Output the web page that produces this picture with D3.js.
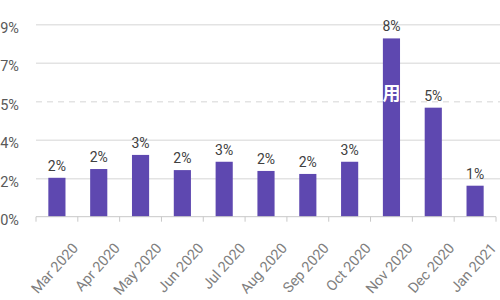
<!DOCTYPE html>
<html>
<head>
<meta charset="utf-8">
<script src="https://cdn.jsdelivr.net/npm/d3@7"></script>
<style>
  body { margin: 0; background: #fff; }
  svg text { font-family: Roboto, "Open Sans", sans-serif; }
</style>
</head>
<body>
<svg id="main-svg" width="500" height="300"></svg>
<script>
// data
var months = ["Mar 2020", "Apr 2020", "May 2020", "Jun 2020", "Jul 2020", "Aug 2020",
  "Sep 2020", "Oct 2020", "Nov 2020", "Dec 2020", "Jan 2021"];
var shares = [1.82, 2.23, 2.89, 2.18, 2.57, 2.14, 2.0, 2.57, 8.34, 5.1, 1.45];
var yTicks = [0, 1.8, 3.6, 5.4, 7.2, 9];

var canvas = d3.select('#main-svg');
var purple = '#5e48b0';

var x = d3.scaleBand().domain(months).range([36, 496])
  .paddingInner(0.59).paddingOuter(0.295);
var y = d3.scaleLinear().domain([0, 9]).range([216.7, 24.3]);
var fmt = (v) => Math.round(v) + '%';

// gridlines + y labels
var yAxis = canvas.append('g').attr('transform', 'translate(36,0)')
  .call(d3.axisLeft(y).tickValues(yTicks).tickFormat(fmt).tickSize(-464).tickPadding(17));
yAxis.select('.domain').remove();
yAxis.selectAll('.tick line')
  .attr('stroke', '#e3e3e3')
  .attr('stroke-width', 1.5)
  .attr('stroke-dasharray', (d, i) => i == 3 ? '6,5' : null)
  .style('display', (d, i) => i == 0 ? 'none' : null);
yAxis.selectAll('.tick text')
  .attr('fill', '#595959')
  .style('font-size', '14.5px')
  .attr('dy', '0.55em');

// bars
canvas.append('g').selectAll('rect').data(shares).enter().append('rect')
  .attr('x', (d, i) => x(months[i]))
  .attr('width', x.bandwidth())
  .attr('y', (d) => y(d))
  .attr('height', (d) => y(0) - y(d))
  .attr('fill', purple);

// value labels
canvas.append('g').selectAll('text').data(shares).enter().append('text')
  .attr('x', (d, i) => x(months[i]) + x.bandwidth() / 2)
  .attr('y', (d) => y(d) - 7)
  .attr('text-anchor', 'middle')
  .attr('fill', '#404040')
  .style('font-size', '14px')
  .text(fmt);

// bottom axis: line + ticks at band boundaries
var base = canvas.append('g');
base.append('line')
  .attr('x1', x.range()[0]).attr('x2', x.range()[1])
  .attr('y1', y(0)).attr('y2', y(0))
  .attr('stroke', '#c8c8c8').attr('stroke-width', 1);
base.selectAll('line.tk').data(d3.range(months.length + 1)).enter().append('line')
  .attr('class', 'tk')
  .attr('x1', (i) => x.range()[0] + i * x.step())
  .attr('x2', (i) => x.range()[0] + i * x.step())
  .attr('y1', y(0)).attr('y2', y(0) + 5)
  .attr('stroke', '#c8c8c8');

// rotated month labels
base.selectAll('text').data(months).enter().append('text')
  .attr('transform', (d) => `translate(${x(d) + x.bandwidth() / 2 + 22},${y(0) + 32}) rotate(-48)`)
  .attr('text-anchor', 'end')
  .attr('fill', '#7f7f7f')
  .style('font-size', '14.5px')
  .text((d) => d);

// faint watermark glyph sitting on the Nov bar
canvas.append('text')
  .attr('x', x('Nov 2020') + x.bandwidth() / 2)
  .attr('y', 100)
  .attr('text-anchor', 'middle')
  .attr('fill', '#fff')
  .style('font-family', '"Noto Sans CJK SC"')
  .style('font-weight', 'bold')
  .style('font-size', '18px')
  .text('用');
</script>
</body>
</html>
